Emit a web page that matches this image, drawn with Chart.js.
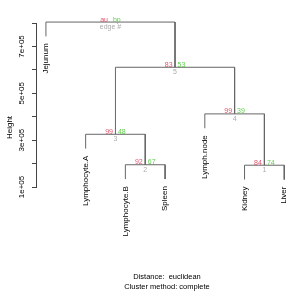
<!DOCTYPE html>
<html><head><meta charset="utf-8">
<script src="https://cdn.jsdelivr.net/npm/chart.js@4/dist/chart.umd.min.js"></script>
<style>html,body{margin:0;padding:0;background:#fff;}canvas{display:block;}</style>
</head><body>
<canvas id="c" width="294" height="295"></canvas>
<script>
// ---- data ----
const leafLabels = ['Jejunum','Lymphocyte.A','Lymphocyte.B','Spleen','Lymph.node','Kidney','Liver'];
// hclust-style merges: negative = leaf (1-based position), positive = earlier merge number
const mergeLeft   = [-6, -3, -2, -5, 3, -1];
const mergeRight  = [-7, -4,  2,  1, 4,  5];
const mergeHeight = [193000, 195000, 325000, 412000, 611000, 804000];
const auValues    = [84, 92, 99, 99, 83];
const bpValues    = [74, 67, 48, 39, 53];
const edgeNumbers = [1, 2, 3, 4, 5];
const rootLabels  = ['au', 'bp', 'edge #'];
const yTickValues = [100000, 300000, 500000, 700000];
const yTickLabels = ['1e+05', '3e+05', '5e+05', '7e+05'];
const yAxisTitle  = 'Height';
const subText     = ['Distance:  euclidean', 'Cluster method: complete'];

// ---- build dendrogram geometry (in data units) ----
const hang = 0.1 * (Math.max(...mergeHeight) - Math.min(...mergeHeight));
const nodeX = [];
function childX(c){ return c < 0 ? -c : nodeX[c-1]; }
function childTop(c, h){ return c < 0 ? h - hang : mergeHeight[c-1]; }
const datasets = [];
for (let i = 0; i < mergeHeight.length; i++) {
  const l = mergeLeft[i], r = mergeRight[i], h = mergeHeight[i];
  const xl = childX(l), xr = childX(r);
  nodeX.push((xl + xr) / 2);
  datasets.push({
    data: [{x: xl, y: childTop(l, h)}, {x: xl, y: h}, {x: xr, y: h}, {x: xr, y: childTop(r, h)}],
    showLine: true, borderColor: '#666', borderWidth: 1, pointRadius: 0, fill: false,
    clip: false, tension: 0
  });
}

const FONT = '"Liberation Sans", Arial, Helvetica, sans-serif';
const AU_COL = '#DF536B', BP_COL = '#61D04F', EDGE_COL = '#ABABAB';

const textPlugin = {
  id: 'dendroText',
  afterDatasetsDraw(chart) {
    const ctx = chart.ctx, xs = chart.scales.x, ys = chart.scales.y;
    ctx.save();
    // leaf labels
    ctx.font = '8px ' + FONT; ctx.fillStyle = '#000';
    const leafParentH = [];
    for (let i = 0; i < mergeHeight.length; i++) {
      [mergeLeft[i], mergeRight[i]].forEach(c => { if (c < 0) leafParentH[-c] = mergeHeight[i]; });
    }
    leafLabels.forEach((lab, i) => {
      const px = xs.getPixelForValue(i + 1);
      const py = ys.getPixelForValue(leafParentH[i + 1] - hang) + 7;
      ctx.save(); ctx.translate(px, py); ctx.rotate(-Math.PI / 2);
      ctx.textAlign = 'right'; ctx.textBaseline = 'middle';
      ctx.fillText(lab, 0, 0); ctx.restore();
    });
    // node labels
    ctx.font = '7px ' + FONT;
    for (let i = 0; i < mergeHeight.length; i++) {
      const px = xs.getPixelForValue(nodeX[i]);
      const py = ys.getPixelForValue(mergeHeight[i]);
      const isRoot = i === mergeHeight.length - 1;
      const a = isRoot ? rootLabels[0] : String(auValues[i]);
      const b = isRoot ? rootLabels[1] : String(bpValues[i]);
      const e = isRoot ? rootLabels[2] : String(edgeNumbers[i]);
      ctx.textBaseline = 'alphabetic';
      ctx.fillStyle = AU_COL; ctx.textAlign = 'right'; ctx.fillText(a, px - 2.5, py - 0.5);
      ctx.fillStyle = BP_COL; ctx.textAlign = 'left'; ctx.fillText(b, px + 2.5, py - 0.5);
      ctx.fillStyle = EDGE_COL; ctx.textAlign = 'center'; ctx.textBaseline = 'middle';
      ctx.fillText(e, px, py + 5);
    }
    // y tick labels
    ctx.font = '8px ' + FONT; ctx.fillStyle = '#000';
    yTickValues.forEach((v, i) => {
      const py = ys.getPixelForValue(v);
      ctx.save(); ctx.translate(22, py); ctx.rotate(-Math.PI / 2);
      ctx.textAlign = 'center'; ctx.textBaseline = 'middle';
      ctx.fillText(yTickLabels[i], 0, 0); ctx.restore();
    });
    // axis title
    ctx.save(); ctx.translate(9.5, 127.5); ctx.rotate(-Math.PI / 2);
    ctx.textAlign = 'center'; ctx.textBaseline = 'middle';
    ctx.fillText(yAxisTitle, 0, 0); ctx.restore();
    // sub text
    ctx.font = '7.5px ' + FONT; ctx.textAlign = 'center'; ctx.textBaseline = 'alphabetic';
    ctx.fillText(subText[0], 167, 279);
    ctx.fillText(subText[1], 167, 288.5);
    ctx.restore();
  }
};

new Chart(document.getElementById('c'), {
  type: 'scatter',
  data: { datasets },
  options: {
    responsive: false, animation: false, devicePixelRatio: 1,
    layout: { padding: { left: 0, top: 23, right: 1, bottom: 108 } },
    plugins: { legend: { display: false }, tooltip: { enabled: false }, title: { display: false } },
    scales: {
      x: { type: 'linear', display: false, min: 0.75, max: 7.22 },
      y: {
        type: 'linear', min: 100000, max: 800000,
        ticks: { stepSize: 100000, display: false },
        grid: { drawOnChartArea: false, drawTicks: true, tickLength: 4, color: '#444' },
        border: { display: true, color: '#444', width: 1 },
        afterFit(scale) { scale.width = 36; }
      }
    }
  },
  plugins: [textPlugin]
});
</script>
</body></html>
